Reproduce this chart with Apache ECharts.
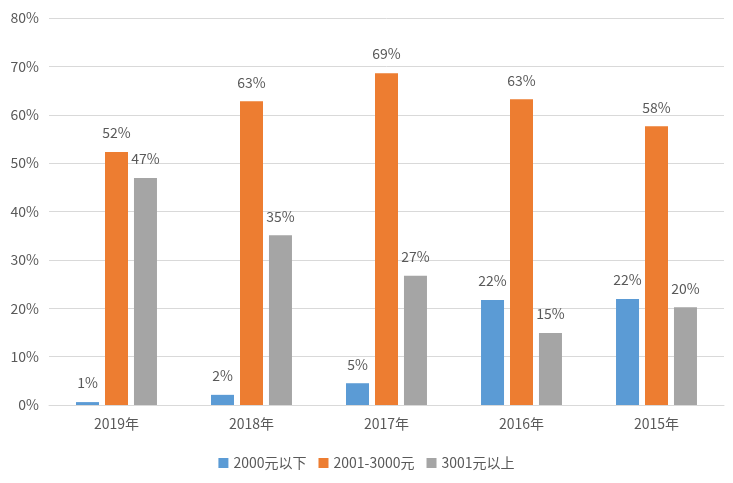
<!DOCTYPE html>
<html><head><meta charset="utf-8">
<script src="https://cdn.jsdelivr.net/npm/echarts@6/dist/echarts.min.js"></script>
<style>html,body{margin:0;padding:0;background:#fff}#c{width:733px;height:483px}</style>
</head><body><div id="c"></div>
<script>
const categories = ['2019年','2018年','2017年','2016年','2015年'];
const seriesNames = ['2000元以下','2001-3000元','3001元以上'];
const low = [0.6, 2.1, 4.5, 21.7, 21.9];
const mid = [52.3, 62.8, 68.6, 63.2, 57.6];
const high = [46.9, 35.1, 26.7, 14.9, 20.2];
const colors = ['#5B9BD5','#ED7D31','#A5A5A5'];
const font = '"Noto Sans CJK SC", "Noto Sans", sans-serif';
const txt = '#595959';
const chart = echarts.init(document.getElementById('c'));
const mk = (name, data, color) => ({
  name, type:'bar', data, barWidth:23, barGap:'26%',
  itemStyle:{color},
  label:{show:true, position:'top', distance:12, color:txt, fontSize:14, fontFamily:font,
    formatter:p=>Math.round(p.value)+'%'}
});
chart.setOption({
  animation:false,
  textStyle:{fontFamily:font},
  grid:{left:49,right:9,top:18,bottom:78},
  legend:{bottom:8, itemWidth:10, itemHeight:10, itemGap:12, icon:'rect',
    textStyle:{color:txt,fontSize:14,fontFamily:font}, data:seriesNames},
  xAxis:{type:'category', data:categories,
    axisLine:{lineStyle:{color:'#D9D9D9'}}, axisTick:{show:false},
    axisLabel:{color:txt,fontSize:14,margin:12,fontFamily:font}},
  yAxis:{type:'value', min:0, max:80, interval:10,
    axisLabel:{formatter:'{value}%', color:txt, fontSize:14, margin:10, fontFamily:font},
    splitLine:{lineStyle:{color:'#D9D9D9'}}, axisLine:{show:false}, axisTick:{show:false}},
  series:[mk(seriesNames[0],low,colors[0]), mk(seriesNames[1],mid,colors[1]), mk(seriesNames[2],high,colors[2])]
});
</script></body></html>
